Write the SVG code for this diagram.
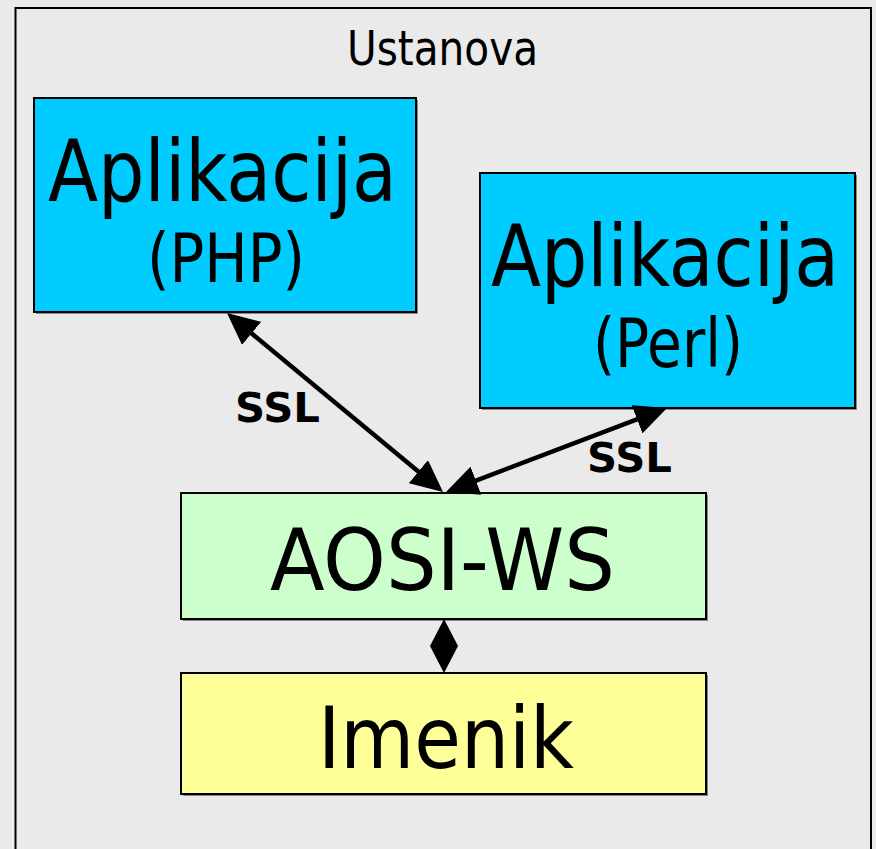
<svg xmlns="http://www.w3.org/2000/svg" width="876" height="849" viewBox="0 0 876 849">
<style>
text { font-family: "DejaVu Sans Condensed", "DejaVu Sans", Verdana, sans-serif; fill: #000; }
.big { font-size: 86px; text-anchor: middle; }
.mid { font-size: 67px; text-anchor: middle; }
.ssl { font-family: "DejaVu Sans", Verdana, sans-serif; font-size: 40px; font-weight: bold; }
.box { stroke: #000; stroke-width: 2; }
.shadow { fill: #888; }
.conn { stroke: #000; stroke-width: 4.5; fill: none; }
</style>
<defs>
<marker id="ah" viewBox="0 0 32 30" refX="23" refY="15" markerWidth="32" markerHeight="30" markerUnits="userSpaceOnUse" orient="auto-start-reverse">
<path d="M0,0 L32,15 L0,30 z" fill="#000"/>
</marker>
</defs>
<rect x="0" y="0" width="876" height="849" fill="#eaeaea"/>
<g id="ustanova">
<rect x="15.5" y="8" width="855.5" height="900" fill="none" stroke="#000" stroke-width="2"/>
<text x="442.5" y="65" style="font-size:48px;text-anchor:middle" textLength="191" lengthAdjust="spacingAndGlyphs">Ustanova</text>
</g>
<g id="app-php">
<rect class="shadow" x="36" y="100" width="382" height="214"/>
<rect class="box" x="34" y="98" width="382" height="214" fill="#00ccff"/>
<text class="big" x="222.5" y="201" textLength="349" lengthAdjust="spacingAndGlyphs">Aplikacija</text>
<text class="mid" x="226" y="282" textLength="158" lengthAdjust="spacingAndGlyphs">(PHP)</text>
</g>
<g id="app-perl">
<rect class="shadow" x="482" y="175" width="375" height="235"/>
<rect class="box" x="480" y="173" width="375" height="235" fill="#00ccff"/>
<text class="big" x="665" y="286" textLength="348" lengthAdjust="spacingAndGlyphs">Aplikacija</text>
<text class="mid" x="668" y="367" textLength="150" lengthAdjust="spacingAndGlyphs">(Perl)</text>
</g>
<g id="aosi-ws">
<rect class="shadow" x="183" y="495" width="525" height="126"/>
<rect class="box" x="181" y="493" width="525" height="126" fill="#ccffcc"/>
<text class="big" x="442.5" y="590" textLength="345" lengthAdjust="spacingAndGlyphs">AOSI-WS</text>
</g>
<g id="imenik">
<rect class="shadow" x="183" y="675" width="525" height="121"/>
<rect class="box" x="181" y="673" width="525" height="121" fill="#ffff99"/>
<text class="big" x="446" y="768" textLength="256" lengthAdjust="spacingAndGlyphs">Imenik</text>
</g>
<g id="connectors">
<path class="conn" d="M233.9,318.7 L436.1,486.3" marker-start="url(#ah)" marker-end="url(#ah)"/>
<path class="conn" d="M658.6,411.2 L454.4,488.8" marker-start="url(#ah)" marker-end="url(#ah)"/>
<polygon points="444,619 458,646 444,673 430,646" fill="#000"/>
<text class="ssl" x="235" y="422" textLength="85" lengthAdjust="spacingAndGlyphs">SSL</text>
<text class="ssl" x="587" y="472" textLength="85" lengthAdjust="spacingAndGlyphs">SSL</text>
</g>
</svg>
